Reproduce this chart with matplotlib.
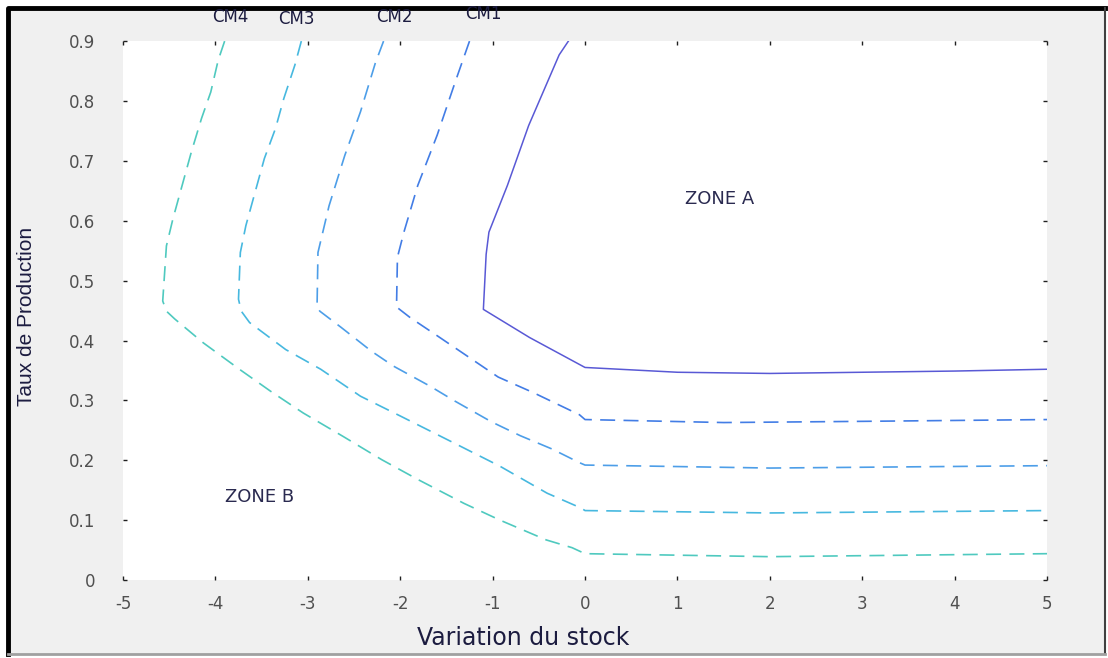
import matplotlib
matplotlib.use("Agg")
import matplotlib.pyplot as plt
from matplotlib.patches import Rectangle
from matplotlib.lines import Line2D

# contour lines (x = variation du stock, y = taux de production)
zone_a_x = [-0.18, -0.28, -0.61, -0.84, -1.04, -1.07, -1.10, -0.60, 0.0, 1.0, 2.0, 3.0, 4.0, 5.0]
zone_a_y = [0.90, 0.877, 0.759, 0.659, 0.581, 0.544, 0.452, 0.405, 0.355, 0.347, 0.345, 0.347, 0.349, 0.352]

cm1_x = [-1.25, -1.40, -1.60, -1.81, -1.96, -2.03, -2.04, -1.89, -1.60, -0.94, -0.56, -0.06, 0.0, 1.5, 3.0, 5.0]
cm1_y = [0.90, 0.834, 0.743, 0.659, 0.581, 0.539, 0.456, 0.438, 0.408, 0.339, 0.313, 0.276, 0.268, 0.263, 0.265, 0.268]

cm2_x = [-2.18, -2.27, -2.43, -2.60, -2.77, -2.89, -2.90, -2.87, -2.64, -2.31, -2.07, -1.68, -1.41,
         -1.01, -0.70, -0.36, -0.06, 0.0, 2.0, 5.0]
cm2_y = [0.90, 0.863, 0.782, 0.709, 0.625, 0.547, 0.456, 0.449, 0.422, 0.382, 0.357, 0.324, 0.299,
         0.264, 0.241, 0.219, 0.196, 0.192, 0.187, 0.191]

cm3_x = [-3.07, -3.14, -3.26, -3.35, -3.47, -3.57, -3.67, -3.73, -3.75, -3.72, -3.63, -3.24, -2.86,
         -2.43, -2.0, -1.42, -0.92, -0.41, -0.04, 0.0, 2.0, 5.0]
cm3_y = [0.90, 0.86, 0.804, 0.754, 0.704, 0.648, 0.592, 0.547, 0.469, 0.449, 0.43, 0.385, 0.352,
         0.307, 0.274, 0.229, 0.19, 0.145, 0.12, 0.116, 0.112, 0.116]

cm4_x = [-3.90, -3.97, -4.05, -4.15, -4.26, -4.36, -4.46, -4.53, -4.57, -4.53, -4.44, -4.13, -3.74,
         -3.40, -3.05, -2.62, -2.20, -1.81, -1.31, -0.92, -0.42, -0.14, 0.0, 2.0, 5.0]
cm4_y = [0.90, 0.868, 0.815, 0.771, 0.715, 0.659, 0.603, 0.558, 0.466, 0.449, 0.436, 0.396, 0.352,
         0.315, 0.279, 0.240, 0.201, 0.168, 0.128, 0.10, 0.067, 0.054, 0.044, 0.039, 0.044]

cm_labels = ["CM4", "CM3", "CM2", "CM1"]
cm_label_x = [-3.84, -3.12, -2.06, -1.10]
cm_label_y = [0.940, 0.937, 0.940, 0.945]

x_ticks = [-5, -4, -3, -2, -1, 0, 1, 2, 3, 4, 5]
y_ticks = [0, 0.1, 0.2, 0.3, 0.4, 0.5, 0.6, 0.7, 0.8, 0.9]

fig = plt.figure(figsize=(11.08, 6.58), dpi=100, facecolor="white")
# grey window with a dark frame, like the screenshot
fig.patches.append(Rectangle((0.007, 0.006), 0.990, 0.982, transform=fig.transFigure,
                             facecolor="#f0f0f0", edgecolor="none", zorder=-10))
fig.lines.append(Line2D([0.007, 0.007, 0.997], [0.006, 0.988, 0.988], transform=fig.transFigure,
                        color="black", lw=3.5, zorder=-5))
fig.lines.append(Line2D([0.997, 0.997], [0.006, 0.988], transform=fig.transFigure,
                        color="#404040", lw=1.5, zorder=-5))
fig.lines.append(Line2D([0.007, 0.997], [0.006, 0.006], transform=fig.transFigure,
                        color="#a0a0a0", lw=2, zorder=-5))

ax = fig.add_axes([0.111, 0.1185, 0.834, 0.819])
ax.set_facecolor("white")

dash = (0, (9, 5))
ax.plot(zone_a_x, zone_a_y, color="#4747d1", lw=1.1, alpha=0.9)
ax.plot(cm1_x, cm1_y, color="#2e6fe3", lw=1.2, ls=dash, alpha=0.9)
ax.plot(cm2_x, cm2_y, color="#3a94e6", lw=1.2, ls=dash, alpha=0.9)
ax.plot(cm3_x, cm3_y, color="#33b1dc", lw=1.2, ls=dash, alpha=0.9)
ax.plot(cm4_x, cm4_y, color="#3cc4b8", lw=1.2, ls=dash, alpha=0.9)

for lbl, lx, ly in zip(cm_labels, cm_label_x, cm_label_y):
    ax.text(lx, ly, lbl, fontsize=12, color="#1c1c40", ha="center", va="center", clip_on=False)

ax.text(1.46, 0.637, "ZONE A", fontsize=13, color="#2a2a50", ha="center", va="center")
ax.text(-3.52, 0.139, "ZONE B", fontsize=13, color="#2a2a50", ha="center", va="center")

ax.set_xlim(-5, 5)
ax.set_ylim(0, 0.9)
ax.set_xticks(x_ticks)
ax.set_yticks(y_ticks)
ax.set_xticklabels([str(t) for t in x_ticks])
ax.set_yticklabels(["0"] + ["%.1f" % t for t in y_ticks[1:]])
for s in ax.spines.values():
    s.set_visible(False)
ax.tick_params(direction="in", length=3, width=1, color="#202020",
               top=True, right=True, labelsize=12, labelcolor="#505050")
ax.tick_params(axis="x", pad=11)
ax.tick_params(axis="y", pad=20)

ax.set_xlabel("Variation du stock", fontsize=17, color="#1c1c40")
ax.xaxis.set_label_coords(0.433, -0.085)
ax.set_ylabel("Taux de Production", fontsize=15, color="#1c1c40",
              family="Liberation Sans")
ax.yaxis.set_label_coords(-0.094, 0.49)

fig.savefig("out.png", dpi=100, facecolor=fig.get_facecolor())
